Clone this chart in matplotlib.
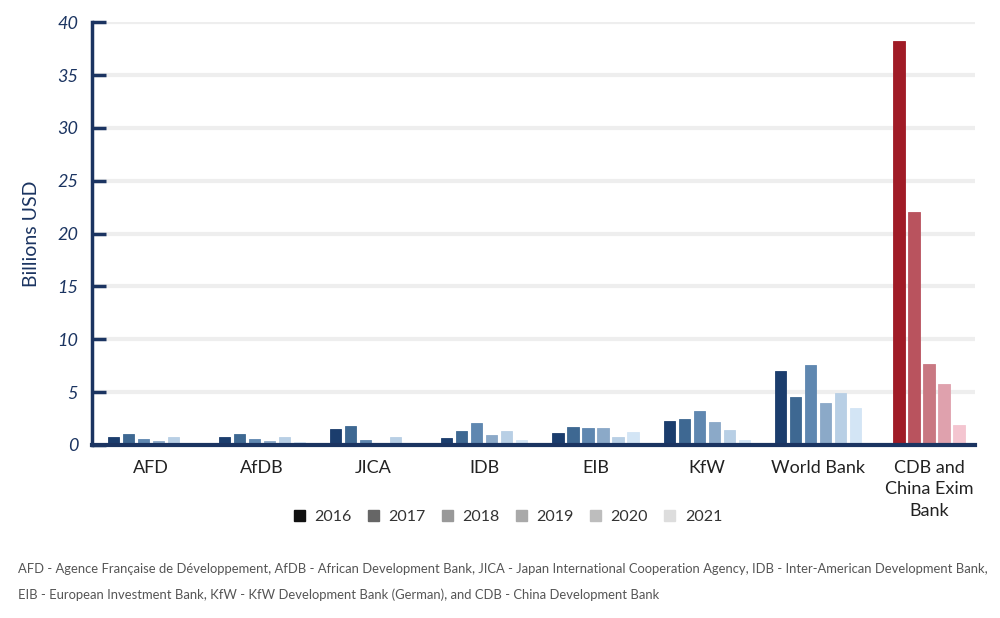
import numpy as np
import matplotlib
matplotlib.use('Agg')
from matplotlib import pyplot as plt
from matplotlib.patches import Patch

banks = ['AFD', 'AfDB', 'JICA', 'IDB', 'EIB', 'KfW', 'World Bank', 'CDB and\nChina Exim\nBank']
years = ['2016', '2017', '2018', '2019', '2020', '2021']

# values by year, one entry per bank (billions USD); nan = no bar
v2016 = [0.73, 0.73, 1.48, 0.63, 1.10, 2.27, 6.97, 38.2]
v2017 = [1.04, 1.04, 1.83, 1.32, 1.67, 2.43, 4.54, 22.0]
v2018 = [0.54, 0.54, 0.47, 2.05, 1.58, 3.19, 7.60, 7.69]
v2019 = [0.38, 0.38, 0.0, 0.95, 1.58, 2.18, 4.00, 5.77]
v2020 = [0.73, 0.73, 0.73, 1.32, 0.73, 1.45, 4.95, 1.89]
v2021 = [0.0, 0.30, 0.0, 0.45, 1.23, 0.45, 3.50, np.nan]

blues = ['#1b3d6d', '#3e6892', '#5f87b0', '#8ba9c8', '#b8cfe5', '#d3e5f5']
reds = ['#a01b26', '#b9535e', '#c97882', '#dfa1ad', '#f4c5d0']
legend_grays = ['#111111', '#666666', '#999999', '#a9a9a9', '#bdbdbd', '#dddddd']
navy = '#1b3461'

plt.rcParams['font.family'] = ['Lato', 'DejaVu Sans']

fig = plt.figure(figsize=(10, 6.18), dpi=100)
ax = fig.add_axes([0.092, 0.28, 0.883, 0.684])

series = [v2016, v2017, v2018, v2019, v2020, v2021]
step = 0.135
width = 0.1
for i in range(len(banks)):
    vals = [s[i] for s in series]
    valid = [k for k in range(len(vals)) if not np.isnan(vals[k])]
    n = len(valid)
    cols = reds if i == len(banks) - 1 else blues
    for j, k in enumerate(valid):
        xpos = i + (j - (n - 1) / 2) * step
        ax.bar(xpos, vals[k], width=width, color=cols[j], edgecolor=cols[j],
               linewidth=0.6, zorder=3)

ax.set_xlim(-0.53, 7.414)
ax.set_ylim(0, 40)
ax.set_yticks(range(0, 41, 5))
ax.set_xticks(range(len(banks)))
ax.set_xticklabels(banks, fontsize=13, color='#222222', va='top', linespacing=1.4)
ax.tick_params(axis='x', length=0, pad=11)
ax.tick_params(axis='y', direction='in', length=10, width=2.5, color=navy,
               labelsize=13, labelcolor=navy, pad=10)
for lab in ax.get_yticklabels():
    lab.set_style('italic')

ax.grid(axis='y', color='#eeeeee', linewidth=3, zorder=0)
ax.set_axisbelow(True)
for side in ['top', 'right']:
    ax.spines[side].set_visible(False)
ax.spines['left'].set_color(navy)
ax.spines['left'].set_linewidth(2.5)
ax.spines['bottom'].set_color(navy)
ax.spines['bottom'].set_linewidth(3)
ax.spines['bottom'].set_zorder(4)

ax.set_ylabel('Billions USD', fontsize=14, color=navy, labelpad=12)

handles = [Patch(facecolor=c, edgecolor=c) for c in legend_grays]
fig.legend(handles, years, loc='center', bbox_to_anchor=(0.508, 0.163), ncol=6,
           frameon=False, fontsize=11.5, handlelength=0.7, handleheight=0.7,
           handletextpad=0.6, columnspacing=1.0, labelcolor='#333333')

foot = ('AFD - Agence Française de Développement, AfDB - African Development Bank, '
        'JICA - Japan International Cooperation Agency, IDB - Inter-American Development Bank,\n'
        'EIB - European Investment Bank, KfW - KfW Development Bank (German), '
        'and CDB - China Development Bank')
fig.text(0.018, 0.058, foot, fontsize=9.35, color='#555555', linespacing=2.3, va='center')

plt.savefig('out.png', dpi=100)
